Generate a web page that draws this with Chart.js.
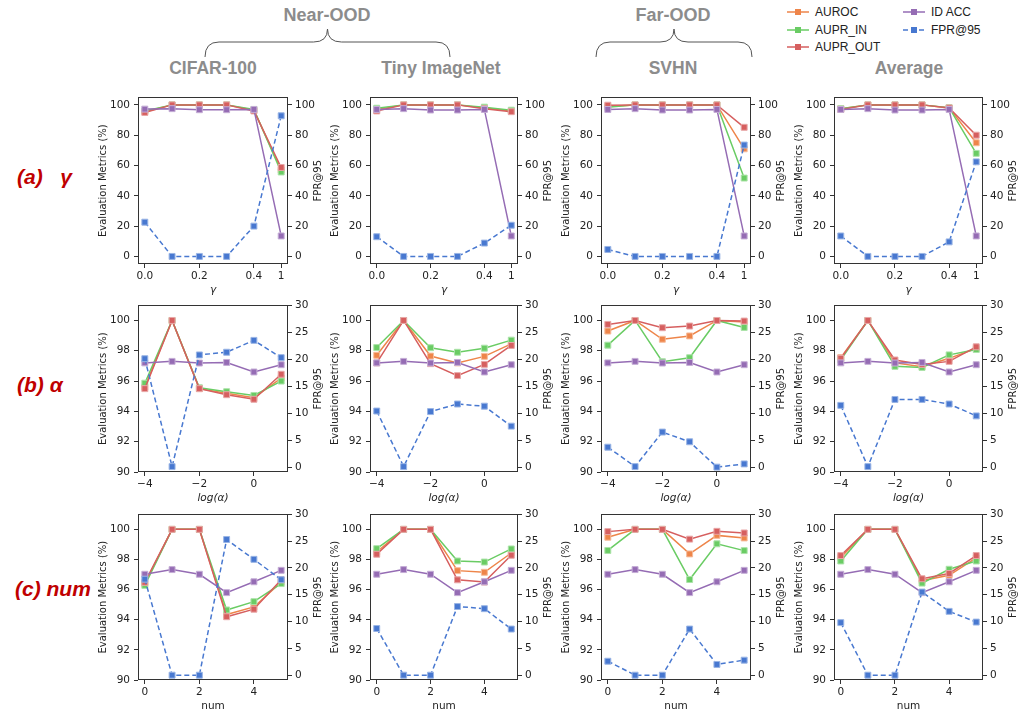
<!DOCTYPE html>
<html><head><meta charset="utf-8">
<script src="https://cdn.jsdelivr.net/npm/chart.js@4/dist/chart.umd.min.js"></script>
<style>
body{margin:0;background:#fff;width:1021px;height:711px;position:relative;overflow:hidden;font-family:"DejaVu Sans",sans-serif;}
canvas{position:absolute}
.t{position:absolute;white-space:nowrap;transform:translate(-50%,-50%)}
.hdr{font-family:"Liberation Sans",Arial,sans-serif;font-weight:bold;color:#8c8c8c}
.row{position:absolute;white-space:nowrap;transform:translateY(-50%);font-family:"Liberation Sans",Arial,sans-serif;font-weight:bold;font-style:italic;color:#c00000;font-size:21px}
.leg{position:absolute;white-space:nowrap;transform:translateY(-50%);font-family:"Liberation Sans",Arial,sans-serif;font-size:12px;color:#222;display:flex;align-items:center}
.leg svg{margin-right:6px}
</style></head><body>
<script>
// ---------- data ----------
const columns = ['CIFAR-100', 'Tiny ImageNet', 'SVHN', 'Average'];
const metrics = ['AUROC', 'AUPR_IN', 'AUPR_OUT', 'ID ACC', 'FPR@95'];

const gammaX = [0, 0.1, 0.2, 0.3, 0.4, 0.5];
const gammaTicks = [0, 0.2, 0.4, 0.5];
const gammaTickLabels = ['0.0', '0.2', '0.4', '1'];
const alphaX = [-4, -3, -2, -1, 0, 1];
const alphaTicks = [-4, -2, 0];
const numX = [0, 1, 2, 3, 4, 5];
const numTicks = [0, 2, 4];

const leftTicksGamma = [0, 20, 40, 60, 80, 100];
const rightTicksGamma = [0, 20, 40, 60, 80, 100];
const leftTicksFine = [90, 92, 94, 96, 98, 100];
const rightTicksFine = [0, 5, 10, 15, 20, 25, 30];

// (a) gamma — one row per column: CIFAR-100, Tiny ImageNet, SVHN, Average
const gammaAUROC   = [[95.5,100,100,100,96.5,57.0],[97.0,100,100,100,98.0,96.0],[99.0,100,100,100,100,71.0],[97.5,100,100,100,98.0,75.0]];
const gammaAUPRIN  = [[96.0,100,100,100,97.0,55.7],[97.8,100,100,100,98.5,96.5],[98.5,100,100,100,100,51.7],[97.5,100,100,100,98.2,68.0]];
const gammaAUPROUT = [[95.0,100,100,100,96.0,58.7],[96.0,100,100,100,97.5,95.5],[99.8,100,100,100,100,85.2],[97.0,100,100,100,98.0,80.0]];
const gammaIDACC   = [[97.2,97.5,96.8,96.8,97.0,13.5],[97.0,97.5,96.6,96.6,97.0,13.5],[97.0,97.5,96.6,96.6,97.0,13.5],[97.0,97.5,96.6,96.6,97.0,13.5]];
const gammaFPR     = [[22.6,0,0,0,20.0,92.8],[13.0,0,0,0,8.8,20.6],[4.6,0,0,0,0,73.5],[13.5,0,0,0,9.6,62.4]];

// (b) alpha
const alphaAUROC   = [[95.6,100,95.5,95.2,94.9,96.2],[97.7,100,97.65,97.2,97.63,98.45],[99.3,100,98.76,98.98,100,99.9],[97.55,100,97.2,96.95,97.5,98.15]];
const alphaAUPRIN  = [[95.86,100,95.56,95.3,95.05,96.0],[98.21,100,98.2,97.9,98.17,98.7],[98.37,100,97.28,97.54,100,99.54],[97.4,100,96.97,96.9,97.73,98.08]];
const alphaAUPROUT = [[95.5,100,95.5,95.1,94.8,96.45],[97.2,100,97.15,96.36,97.1,98.35],[99.74,100,99.52,99.63,100,99.96],[97.5,100,97.39,97.1,97.3,98.26]];
const alphaIDACC   = [[97.2,97.3,97.19,97.23,96.6,97.08],[97.2,97.3,97.19,97.23,96.6,97.08],[97.2,97.3,97.19,97.23,96.6,97.08],[97.2,97.3,97.19,97.23,96.6,97.08]];
const alphaFPR     = [[20.1,0.1,20.8,21.3,23.5,20.3],[10.4,0.1,10.3,11.7,11.3,7.6],[3.7,0.1,6.5,4.7,0.0,0.6],[11.45,0.1,12.55,12.55,11.7,9.5]];

// (c) num
const numAUROC   = [[96.4,100,100,94.35,94.85,96.5],[98.5,100,100,97.26,97.15,98.43],[99.48,100,100,98.37,99.6,99.43],[98.13,100,100,96.6,96.95,98.1]];
const numAUPRIN  = [[96.28,100,100,94.65,95.2,96.4],[98.72,100,100,97.9,97.83,98.7],[98.6,100,100,96.67,99.04,98.59],[97.9,100,100,96.43,97.35,97.9]];
const numAUPROUT = [[96.48,100,100,94.2,94.7,96.65],[98.35,100,100,96.65,96.5,98.28],[99.85,100,100,99.35,99.87,99.76],[98.26,100,100,96.72,97.07,98.26]];
const numIDACC   = [[97.02,97.33,97.02,95.8,96.52,97.28],[97.02,97.33,97.02,95.8,96.52,97.28],[97.02,97.33,97.02,95.8,96.52,97.28],[97.02,97.33,97.02,95.8,96.52,97.28]];
const numFPR     = [[17.9,0,0,25.3,21.6,17.8],[8.7,0,0,12.8,12.4,8.6],[2.6,0,0,8.6,2.0,2.8],[9.8,0,0,15.5,11.9,9.9]];

// ---------- styling / layout ----------
const colors = {'AUROC':'#ee854a','AUPR_IN':'#6acc64','AUPR_OUT':'#d65f5f','ID ACC':'#956cb4','FPR@95':'#4878d0'};
const orders = {'AUROC':5,'AUPR_IN':4,'AUPR_OUT':3,'ID ACC':2,'FPR@95':1};
const colL = [138, 370, 601, 834];
const colR = [288, 518, 751, 983];
const rowT = [95, 303, 512];
const rowB = [264, 472, 680];
const PADL = 43, PADR = 40, PADT = 8, PADB = 36;

function lighten(hex, f){
  const n = parseInt(hex.slice(1),16);
  const r=(n>>16)&255,g=(n>>8)&255,b=n&255;
  const m=c=>Math.round(c+(255-c)*f);
  return `rgb(${m(r)},${m(g)},${m(b)})`;
}
function minus(v){ return v<0 ? '\u2212'+Math.abs(v) : String(v); }

const framePlugin = {
  id:'frame',
  afterDraw(chart){
    const {ctx, chartArea:a} = chart;
    ctx.save();
    ctx.strokeStyle='#333'; ctx.lineWidth=1;
    ctx.strokeRect(Math.round(a.left)+0.5, Math.round(a.top)+0.5, Math.round(a.right-a.left)-1, Math.round(a.bottom-a.top)-1);
    ctx.fillStyle='#222';
    ctx.font='10px "DejaVu Sans"';
    ctx.textAlign='center'; ctx.textBaseline='middle';
    ctx.translate(chart.width-10, (a.top+a.bottom)/2);
    ctx.rotate(-Math.PI/2);
    ctx.fillText('FPR@95',0,0);
    ctx.restore();
  }
};

const rows = [
  {x:gammaX, xTicks:gammaTicks, xLabel:v=>gammaTickLabels[gammaTicks.indexOf(v)], xMin:-0.025, xMax:0.525, title:'\u03b3', italic:true,
   yMin:-5, yMax:105, yTicks:leftTicksGamma, y1Min:-5, y1Max:105, y1Ticks:rightTicksGamma,
   sets:[gammaAUROC,gammaAUPRIN,gammaAUPROUT,gammaIDACC,gammaFPR]},
  {x:alphaX, xTicks:alphaTicks, xLabel:minus, xMin:-4.25, xMax:1.25, title:'log(\u03b1)', italic:true,
   yMin:90, yMax:101, yTicks:leftTicksFine, y1Min:-0.9, y1Max:30, y1Ticks:rightTicksFine,
   sets:[alphaAUROC,alphaAUPRIN,alphaAUPROUT,alphaIDACC,alphaFPR]},
  {x:numX, xTicks:numTicks, xLabel:minus, xMin:-0.25, xMax:5.25, title:'num', italic:false,
   yMin:90, yMax:101, yTicks:leftTicksFine, y1Min:-0.9, y1Max:30, y1Ticks:rightTicksFine,
   sets:[numAUROC,numAUPRIN,numAUPROUT,numIDACC,numFPR]}
];

const tickFont = {family:'"DejaVu Sans"', size:10.5};
const gridCfg = {drawOnChartArea:false, drawTicks:true, tickLength:4, color:'#333', lineWidth:1};

rows.forEach((row, ri) => {
  columns.forEach((col, ci) => {
    const cv = document.createElement('canvas');
    const w = PADL + (colR[ci]-colL[ci]) + PADR;
    const h = PADT + (rowB[ri]-rowT[ri]) + PADB;
    cv.width = w; cv.height = h;
    cv.style.left = (colL[ci]-PADL)+'px';
    cv.style.top = (rowT[ri]-PADT)+'px';
    cv.style.width = w+'px'; cv.style.height = h+'px';
    document.body.appendChild(cv);
    const datasets = metrics.map((m, mi) => ({
      label:m,
      data: row.x.map((xv,i)=>({x:xv, y:row.sets[mi][ci][i]})),
      yAxisID: m==='FPR@95' ? 'y1' : 'y',
      borderColor: colors[m], backgroundColor: colors[m],
      pointBackgroundColor: colors[m], pointBorderColor: lighten(colors[m],0.45),
      pointBorderWidth:1, pointStyle:'rect', pointRadius:4.2,
      borderWidth:1.5, borderDash: m==='FPR@95' ? [5,3] : [],
      order: orders[m], tension:0
    }));
    new Chart(cv, {
      type:'line',
      data:{datasets},
      plugins:[framePlugin],
      options:{
        responsive:false, animation:false, devicePixelRatio:1,
        layout:{padding:{top:PADT,left:0,right:0,bottom:0}},
        plugins:{legend:{display:false}, tooltip:{enabled:false}},
        scales:{
          x:{type:'linear', min:row.xMin, max:row.xMax,
             afterBuildTicks:s=>{s.ticks = row.xTicks.map(v=>({value:v}));},
             afterFit:s=>{s.height = PADB;},
             ticks:{callback:v=>row.xLabel(v), font:tickFont, color:'#222', maxRotation:0, autoSkip:false, padding:2},
             grid:gridCfg, border:{display:false},
             title:{display:true, text:row.title, color:'#222', padding:{top:2,bottom:3},
                    font:{family:'"DejaVu Sans"', size:10.5, style:row.italic?'italic':'normal'}}},
          y:{type:'linear', position:'left', min:row.yMin, max:row.yMax,
             afterBuildTicks:s=>{s.ticks = row.yTicks.map(v=>({value:v}));},
             afterFit:s=>{s.width = PADL;},
             ticks:{font:tickFont, color:'#222', padding:4},
             grid:gridCfg, border:{display:false},
             title:{display:true, text:'Evaluation Metrics (%)', color:'#222', padding:{top:2,bottom:2},
                    font:{family:'"DejaVu Sans"', size:10}}},
          y1:{type:'linear', position:'right', min:row.y1Min, max:row.y1Max,
             afterBuildTicks:s=>{s.ticks = row.y1Ticks.map(v=>({value:v}));},
             afterFit:s=>{s.width = PADR;},
             ticks:{font:tickFont, color:'#222', padding:3},
             grid:gridCfg, border:{display:false}}
        }
      }
    });
  });
});

// ---------- headers, labels, legend ----------
function addText(cls, html, x, y, style){
  const d = document.createElement('div');
  d.className = cls; d.innerHTML = html;
  d.style.left = x+'px'; d.style.top = y+'px';
  if (style) Object.assign(d.style, style);
  document.body.appendChild(d);
}
addText('t hdr','Near-OOD',327,15,{fontSize:'18px'});
addText('t hdr','Far-OOD',673,15,{fontSize:'18px'});
const colCenters = [213, 441, 673, 909];
columns.forEach((c,i)=>addText('t hdr',c,colCenters[i],68,{fontSize:'17.5px'}));
addText('row','(a)&nbsp;&nbsp;&nbsp;\u03b3',17,177);
addText('row','(b) \u03b1',17,385);
addText('row','(c) num',15,589);

// braces
function brace(x1,x2,yBase,yMid,yTip){
  const xm=(x1+x2)/2, r=14;
  return `M${x1} ${yBase} Q${x1} ${yMid} ${x1+r} ${yMid} L${xm-r} ${yMid} Q${xm} ${yMid} ${xm} ${yTip} Q${xm} ${yMid} ${xm+r} ${yMid} L${x2-r} ${yMid} Q${x2} ${yMid} ${x2} ${yBase}`;
}
const svgNS='http://www.w3.org/2000/svg';
const svg=document.createElementNS(svgNS,'svg');
svg.setAttribute('width','1021'); svg.setAttribute('height','80');
svg.style.position='absolute'; svg.style.left='0'; svg.style.top='0';
[[205,450],[596,752]].forEach(([a,b])=>{
  const p=document.createElementNS(svgNS,'path');
  p.setAttribute('d',brace(a,b,57,42,29));
  p.setAttribute('fill','none'); p.setAttribute('stroke','#555'); p.setAttribute('stroke-width','1');
  svg.appendChild(p);
});
document.body.appendChild(svg);

// legend
const legPos = [[787,12],[787,29.5],[787,47],[903,12],[903,29.5]];
metrics.forEach((m,i)=>{
  const c = colors[m];
  const dash = m==='FPR@95' ? 'stroke-dasharray="5,3"' : '';
  const html = `<svg width="22" height="10"><line x1="0" y1="5" x2="22" y2="5" stroke="${c}" stroke-width="1.5" ${dash}/><rect x="8" y="2" width="6" height="6" fill="${c}"/></svg>${m}`;
  addText('leg',html,legPos[i][0],legPos[i][1]);
});
</script>
</body></html>
